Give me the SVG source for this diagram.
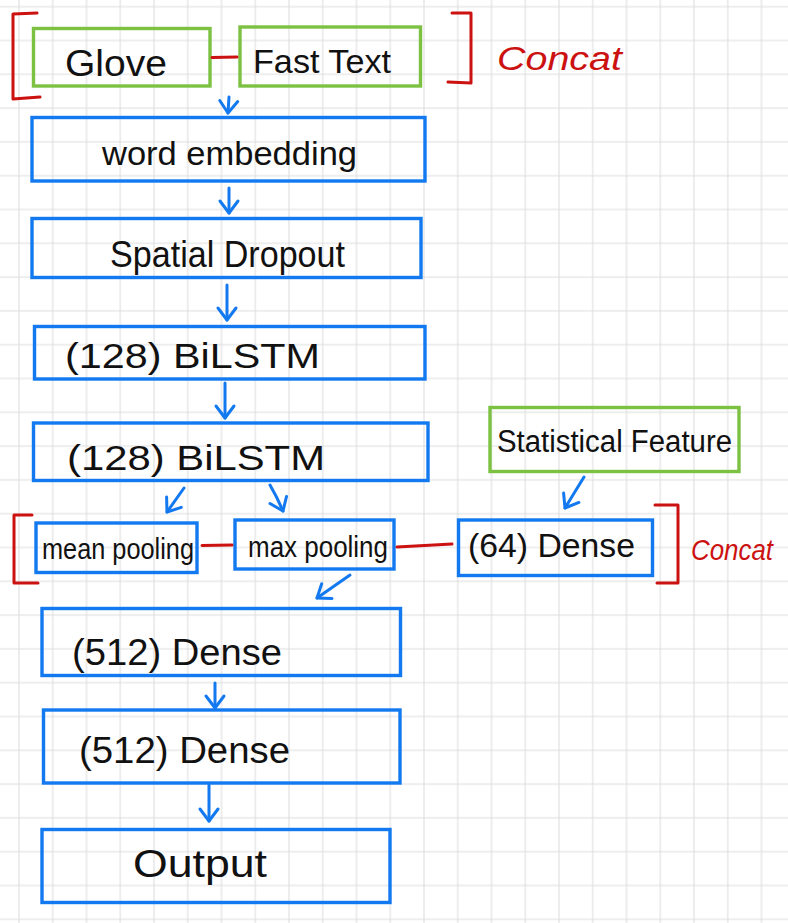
<svg xmlns="http://www.w3.org/2000/svg" width="788" height="923" viewBox="0 0 788 923">
<defs>
<pattern id="grid" x="2.125" y="-10.2" width="33.75" height="33.8" patternUnits="userSpaceOnUse">
<path d="M16.875,0 V33.8 M0,16.9 H33.75" stroke="#dedede" stroke-width="1.1" fill="none"/>
</pattern>
<marker id="arr" viewBox="0 0 12 18" refX="12" refY="9" markerWidth="12" markerHeight="18" markerUnits="userSpaceOnUse" orient="auto" overflow="visible">
<path d="M0,0 L12,9 L0,18" fill="none" stroke="#1279f0" stroke-width="3" stroke-linecap="round" stroke-linejoin="round"/>
</marker>
<style>
.blue{fill:none;stroke:#1279f0;stroke-width:3.4}
.green{fill:none;stroke:#7cc142;stroke-width:3.4}
.red{fill:none;stroke:#cc1111;stroke-width:3;stroke-linecap:round;stroke-linejoin:round}
.arrow{fill:none;stroke:#1279f0;stroke-width:3;stroke-linecap:round}
.lbl{font-family:"Liberation Sans",Arial,sans-serif;fill:#111}
.red-lbl{font-family:"Liberation Sans",Arial,sans-serif;fill:#cc1111;font-style:italic}
</style>
</defs>
<rect width="788" height="923" fill="#ffffff"/>
<rect width="788" height="923" fill="url(#grid)"/>

<g id="glove"><rect class="green" x="33.5" y="28.5" width="176.5" height="57.5"/><text class="lbl" x="65" y="76" font-size="36" textLength="102" lengthAdjust="spacingAndGlyphs">Glove</text></g>
<g id="fasttext"><rect class="green" x="240" y="27" width="180.5" height="59"/><text class="lbl" x="253" y="73" font-size="34" textLength="138" lengthAdjust="spacingAndGlyphs">Fast Text</text></g>
<g id="word-embedding"><rect class="blue" x="32" y="117.5" width="393" height="63.5"/><text class="lbl" x="102" y="165" font-size="34" textLength="255" lengthAdjust="spacingAndGlyphs">word embedding</text></g>
<g id="spatial-dropout"><rect class="blue" x="32" y="218.5" width="389" height="59"/><text class="lbl" x="110" y="267" font-size="36" textLength="235" lengthAdjust="spacingAndGlyphs">Spatial Dropout</text></g>
<g id="bilstm1"><rect class="blue" x="34.5" y="326.5" width="390.5" height="52.5"/><text class="lbl" x="65" y="368" font-size="35" textLength="255" lengthAdjust="spacingAndGlyphs">(128) BiLSTM</text></g>
<g id="bilstm2"><rect class="blue" x="33.5" y="423" width="394.5" height="57.5"/><text class="lbl" x="67" y="470" font-size="35" textLength="258" lengthAdjust="spacingAndGlyphs">(128) BiLSTM</text></g>
<g id="statistical-feature"><rect class="green" x="490" y="407.5" width="249" height="64"/><text class="lbl" x="497" y="452" font-size="31" textLength="235" lengthAdjust="spacingAndGlyphs">Statistical Feature</text></g>
<g id="mean-pooling"><rect class="blue" x="36" y="523" width="161" height="49.5"/><text class="lbl" x="42" y="559" font-size="30" textLength="152" lengthAdjust="spacingAndGlyphs">mean pooling</text></g>
<g id="max-pooling"><rect class="blue" x="235" y="520" width="159" height="49"/><text class="lbl" x="248" y="557" font-size="30" textLength="140" lengthAdjust="spacingAndGlyphs">max pooling</text></g>
<g id="dense64"><rect class="blue" x="458.5" y="520" width="194" height="55.5"/><text class="lbl" x="468" y="557" font-size="33" textLength="167" lengthAdjust="spacingAndGlyphs">(64) Dense</text></g>
<g id="dense512a"><rect class="blue" x="42" y="608.5" width="358.5" height="67"/><text class="lbl" x="72" y="665" font-size="36" textLength="210" lengthAdjust="spacingAndGlyphs">(512) Dense</text></g>
<g id="dense512b"><rect class="blue" x="43.5" y="710" width="356.5" height="73"/><text class="lbl" x="79" y="763" font-size="36" textLength="211" lengthAdjust="spacingAndGlyphs">(512) Dense</text></g>
<g id="output"><rect class="blue" x="42" y="829.5" width="348" height="73"/><text class="lbl" x="133" y="877" font-size="38" textLength="134" lengthAdjust="spacingAndGlyphs">Output</text></g>

<g id="concat-annotations">
<path class="red" d="M37,13 L13,14 L13,99 L40,97"/>
<path class="red" d="M452,13 L471,13 L471,83 L448,82"/>
<text class="red-lbl" x="497" y="70" font-size="34" textLength="125" lengthAdjust="spacingAndGlyphs">Concat</text>
<path class="red" d="M32,515 L14,515 L14,583 L38,583"/>
<path class="red" d="M655,505 L678,505 L678,583 L657,583"/>
<text class="red-lbl" x="691" y="560" font-size="30" textLength="82" lengthAdjust="spacingAndGlyphs">Concat</text>
</g>

<g id="connectors">
<path class="red" d="M212,57.5 L237,57"/>
<path class="red" d="M202,545.5 L232,545"/>
<path class="red" d="M397,547 L452,544"/>
<path class="arrow" marker-end="url(#arr)" d="M229,97 L228,113"/>
<path class="arrow" marker-end="url(#arr)" d="M229,188 L229,213"/>
<path class="arrow" marker-end="url(#arr)" d="M227,285 L227,320"/>
<path class="arrow" marker-end="url(#arr)" d="M225,383 L225,418"/>
<path class="arrow" marker-end="url(#arr)" d="M184,488 L167,512"/>
<path class="arrow" marker-end="url(#arr)" d="M270,485 Q277,497 283,511"/>
<path class="arrow" marker-end="url(#arr)" d="M584,477 L565,508"/>
<path class="arrow" marker-end="url(#arr)" d="M350,575 L317,598"/>
<path class="arrow" marker-end="url(#arr)" d="M215,683 L215,708"/>
<path class="arrow" marker-end="url(#arr)" d="M209,785 L209,821"/>
</g>
</svg>
